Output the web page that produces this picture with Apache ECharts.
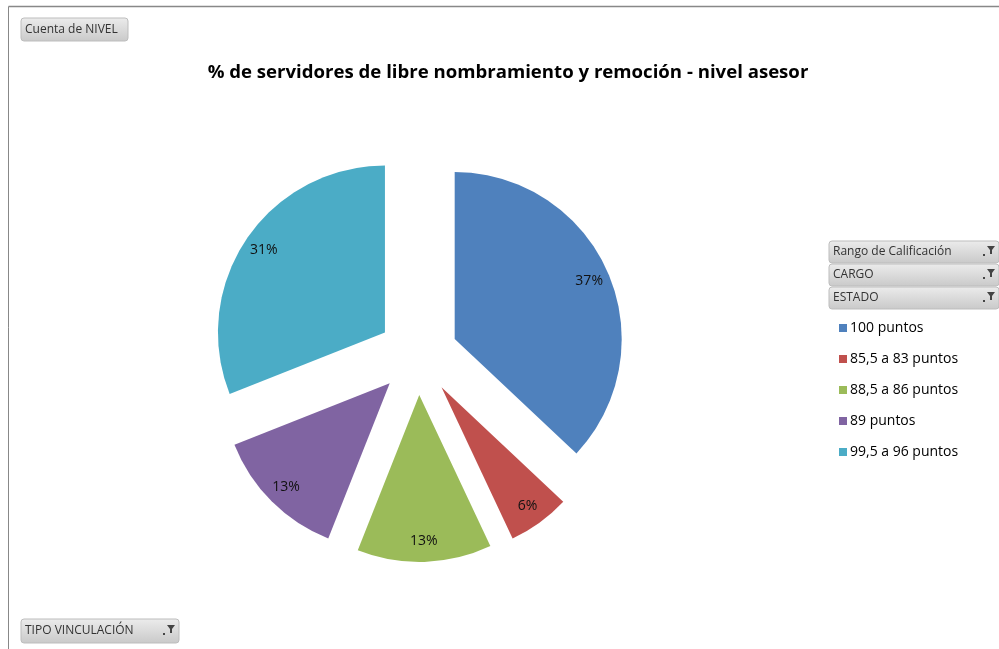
<!DOCTYPE html>
<html>
<head>
<meta charset="utf-8">
<script src="https://cdn.jsdelivr.net/npm/echarts@6/dist/echarts.min.js"></script>
<style>
  html, body { margin: 0; padding: 0; background: #fff; }
  #chart { width: 999px; height: 649px; }
</style>
</head>
<body>
<div id="chart"></div>
<script>
const categories = ['100 puntos', '85,5 a 83 puntos', '88,5 a 86 puntos', '89 puntos', '99,5 a 96 puntos']
const percents = [37, 6, 13, 13, 31]
const colors = ['#4F81BD', '#C0504D', '#9BBB59', '#8064A2', '#4BACC6']
const fieldButtons = ['Rango de Calificación', 'CARGO', 'ESTADO']

const font = '"Open Sans", "Noto Sans", sans-serif'

const chart = echarts.init(document.getElementById('chart'))

const pieData = categories.map((name, i) => ({ name, value: percents[i], selected: true }))

// excel-like grey field button
function button(x, y, w, h, text, filter) {
  const els = [{
    type: 'rect',
    shape: { x, y, width: w, height: h, r: 3 },
    style: {
      fill: new echarts.graphic.LinearGradient(0, 0, 0, 1, [
        { offset: 0, color: '#ececec' },
        { offset: 1, color: '#c9c9c9' }
      ]),
      stroke: '#bdbdbd',
      lineWidth: 1
    }
  }, {
    type: 'text',
    style: {
      x: x + 4, y: y + h / 2, text,
      fill: '#333', font: '12px ' + font, verticalAlign: 'middle'
    }
  }]
  if (filter) {
    const fx = x + w - 14
    const fy = y + h / 2 - 6
    els.push({
      type: 'polygon',
      shape: { points: [[fx + 2, fy], [fx + 10, fy], [fx + 7, fy + 4], [fx + 7, fy + 8], [fx + 5, fy + 8], [fx + 5, fy + 4]] },
      style: { fill: '#444' }
    }, {
      type: 'rect',
      shape: { x: fx - 2, y: fy + 8, width: 2, height: 2 },
      style: { fill: '#444' }
    })
  }
  return els
}

const graphics = [
  { type: 'line', shape: { x1: 8.5, y1: 6.5, x2: 999, y2: 6.5 }, style: { stroke: '#888', lineWidth: 1.5 } },
  { type: 'line', shape: { x1: 8.5, y1: 6.5, x2: 8.5, y2: 649 }, style: { stroke: '#888', lineWidth: 1 } }
]
  .concat(button(21, 18, 107, 23, 'Cuenta de NIVEL', false))
  .concat(button(21, 619, 158, 24, 'TIPO VINCULACIÓN', true))
fieldButtons.forEach((t, i) => {
  graphics.push(...button(829, 241 + i * 23, 170, 22, t, true))
})

chart.setOption({
  color: colors,
  animation: false,
  title: {
    text: '% de servidores de libre nombramiento y remoción - nivel asesor',
    left: 503,
    textAlign: 'center',
    top: 58,
    textStyle: { fontFamily: font, fontSize: 18.6, fontWeight: 'bold', color: '#000' }
  },
  legend: {
    orient: 'vertical',
    left: 834,
    top: 316,
    icon: 'rect',
    itemWidth: 8,
    itemHeight: 8,
    itemGap: 17,
    selectedMode: false,
    data: categories,
    textStyle: { fontFamily: font, fontSize: 14, color: '#000', padding: [0, 0, 0, -2] }
  },
  graphic: graphics,
  series: [{
    type: 'pie',
    center: [418, 355],
    radius: 167,
    startAngle: 90,
    selectedMode: 'multiple',
    selectedOffset: 40,
    silent: true,
    label: { show: false },
    labelLine: { show: false },
    itemStyle: { borderWidth: 0 },
    data: pieData
  }, {
    // transparent ring that only carries the labels near the outer edge
    type: 'pie',
    center: [418, 355],
    radius: [120, 167],
    startAngle: 90,
    selectedMode: 'multiple',
    selectedOffset: 40,
    silent: true,
    itemStyle: { color: 'transparent', borderWidth: 0 },
    label: {
      show: true,
      position: 'inside',
      formatter: '{c}%',
      fontFamily: font,
      fontSize: 14,
      color: '#111'
    },
    labelLine: { show: false },
    data: pieData
  }]
})
</script>
</body>
</html>
